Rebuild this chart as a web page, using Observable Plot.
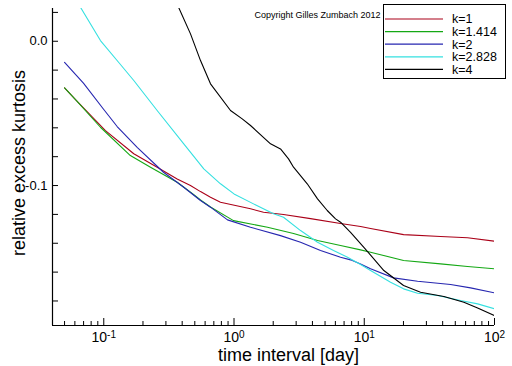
<!DOCTYPE html>
<html><head><meta charset="utf-8">
<script src="https://cdn.jsdelivr.net/npm/d3@7"></script>
<script src="https://cdn.jsdelivr.net/npm/@observablehq/plot@0.6"></script>
<style>
body{margin:0;background:#fff;}
#wrap{position:relative;width:512px;height:366px;font-family:"Liberation Sans",Arial,sans-serif;}
#legend{position:absolute;left:383px;top:4px;}
</style></head><body><div id="wrap"></div>
<script>
const seriesNames = ["k=1", "k=1.414", "k=2", "k=2.828", "k=4"];
const seriesColors = ["#aa0018", "#14a814", "#2626b0", "#35e0e0", "#000000"];

const k1X = [0.05, 0.0617, 0.103, 0.170, 0.257, 0.366, 0.463, 0.553, 0.66, 0.787, 1.339, 1.685, 2.399, 3.869, 6.577, 9.37, 11.18, 20.04, 38.55, 62.1, 100];
const k1Y = [-0.0323, -0.0411, -0.0619, -0.0780, -0.0873, -0.0954, -0.1000, -0.1042, -0.1081, -0.1116, -0.1161, -0.1185, -0.1201, -0.1229, -0.1263, -0.1284, -0.1298, -0.1340, -0.1353, -0.1362, -0.1386];

const k1414X = [0.05, 0.0617, 0.0943, 0.160, 0.2284, 0.366, 0.4887, 0.553, 0.66, 0.991, 1.808, 2.864, 4.378, 6.577, 9.37, 11.18, 20.04, 38.55, 62.1, 100];
const k1414Y = [-0.0323, -0.0411, -0.0596, -0.0792, -0.0873, -0.0977, -0.1062, -0.1100, -0.1149, -0.1243, -0.1289, -0.1333, -0.1381, -0.1416, -0.1446, -0.1462, -0.1520, -0.1543, -0.1561, -0.1577];

const k2X = [0.05, 0.0698, 0.1, 0.1267, 0.1805, 0.2873, 0.4114, 0.553, 0.66, 0.8913, 1.339, 2.275, 3.243, 4.617, 6.577, 7.85, 9.37, 11.18, 16.79, 25.67, 46.0, 65.5, 100];
const k2Y = [-0.0146, -0.0290, -0.0473, -0.0591, -0.0735, -0.0908, -0.1012, -0.1104, -0.1150, -0.1238, -0.1289, -0.1347, -0.1393, -0.1450, -0.1497, -0.1515, -0.1543, -0.1577, -0.1640, -0.1663, -0.1686, -0.1709, -0.1744];

const k2828X = [0.0662, 0.0943, 0.1343, 0.170, 0.257, 0.4114, 0.5861, 0.7874, 1.0, 1.412, 2.011, 2.399, 3.243, 4.378, 5.81, 7.44, 9.37, 11.18, 15.92, 20.04, 25.67, 36.56, 54.9, 74.2, 100];
const k2828Y = [0.0236, 0.0005, -0.0161, -0.0272, -0.0480, -0.0711, -0.0884, -0.0988, -0.1058, -0.1127, -0.1196, -0.1220, -0.1312, -0.1393, -0.1450, -0.1497, -0.1547, -0.1589, -0.1670, -0.1716, -0.1746, -0.1762, -0.1797, -0.1820, -0.1854];

const k4X = [0.375, 0.4634, 0.5531, 0.660, 0.940, 1.156, 1.339, 1.907, 2.275, 2.622, 2.864, 3.649, 4.378, 5.198, 6.021, 6.577, 7.85, 9.93, 14.14, 20.04, 27.06, 40.88, 58.2, 74.2, 100];
const k4Y = [0.0236, 0.0051, -0.0134, -0.0295, -0.0480, -0.0538, -0.0584, -0.0711, -0.0746, -0.0815, -0.0873, -0.0988, -0.1092, -0.1173, -0.1231, -0.1254, -0.1324, -0.1428, -0.1589, -0.1693, -0.1739, -0.1769, -0.1809, -0.1848, -0.1901];

const xMajor = [0.1, 1, 10, 100];
const xMinor = [0.05, 0.06, 0.07, 0.08, 0.09, 0.2, 0.3, 0.4, 0.5, 0.6, 0.7, 0.8, 0.9, 2, 3, 4, 5, 6, 7, 8, 9, 20, 30, 40, 50, 60, 70, 80, 90];
const yMajor = [0, -0.1];
const yMinor = [0.02, -0.02, -0.04, -0.06, -0.08, -0.12, -0.14, -0.16, -0.18];
const xDomain = [0.0404, 100];
const yDomain = [-0.197, 0.0227];
const xTitle = "time interval [day]";
const yTitle = "relative excess kurtosis";
const copyright = "Copyright Gilles Zumbach 2012";

const seriesX = [k1X, k1414X, k2X, k2828X, k4X];
const seriesY = [k1Y, k1414Y, k2Y, k2828Y, k4Y];
const rows = [];
seriesNames.forEach((k, i) => seriesX[i].forEach((x, j) => rows.push({k, x, y: seriesY[i][j]})));

const font = '"Liberation Sans", Arial, sans-serif';
const plot = Plot.plot({
  width: 512, height: 366,
  marginTop: 8, marginRight: 18, marginBottom: 41, marginLeft: 52,
  style: {fontFamily: font, fontSize: "13px", color: "#000", background: "#fff"},
  x: {type: "log", domain: xDomain},
  y: {domain: yDomain},
  color: {domain: seriesNames, range: seriesColors},
  marks: [
    Plot.line(rows, {x: "x", y: "y", z: "k", stroke: "k", strokeWidth: 1.1, clip: true}),
    Plot.ruleX([xDomain[0]], {stroke: "#000", strokeWidth: 1.2}),
    Plot.ruleY([yDomain[0]], {stroke: "#000", strokeWidth: 1.2}),
    Plot.axisX(xMinor, {tickSize: -4, tickFormat: () => "", label: null}),
    Plot.axisX(xMajor, {tickSize: -7, tickPadding: 14, tickFormat: d => "10^" + Math.round(Math.log10(d)), label: null, fontSize: 14}),
    Plot.axisY(yMinor, {tickSize: -6, tickFormat: () => "", label: null}),
    Plot.axisY(yMajor, {tickSize: -6, tickPadding: 11, tickFormat: d => d.toFixed(1), label: null, fontSize: 13}),
    Plot.text([xTitle], {text: d => d, frameAnchor: "bottom", dy: 23, dx: 15, lineAnchor: "top", fontSize: 18}),
    Plot.text([yTitle], {text: d => d, frameAnchor: "left", textAnchor: "middle", rotate: -90, dx: -33, dy: -4, lineAnchor: "middle", fontSize: 18}),
    Plot.text([copyright], {text: d => d, frameAnchor: "top-right", textAnchor: "end", dx: -114, dy: 7, lineAnchor: "middle", fontSize: 9})
  ]
});

d3.select(plot).selectAll('g[aria-label="x-axis tick label"] text').each(function () {
  const s = this.textContent;
  if (!s.includes("^")) return;
  const [base, exp] = s.split("^");
  const t = d3.select(this);
  t.text(null);
  t.append("tspan").text(base);
  t.append("tspan").attr("dy", "-0.45em").attr("font-size", "10px").text(exp);
});

const wrap = document.getElementById("wrap");
wrap.appendChild(plot);

// legend overlay
const lw = 123, lh = 75, rowH = 12.6;
const leg = d3.create("svg").attr("id", "legend").attr("width", lw).attr("height", lh)
  .style("font-family", font);
leg.append("rect").attr("x", 0.5).attr("y", 0.5).attr("width", lw - 1).attr("height", lh - 1)
  .attr("fill", "#fff").attr("stroke", "#000");
seriesNames.forEach((name, i) => {
  const cy = 15 + i * rowH;
  leg.append("line").attr("x1", 2).attr("x2", 60).attr("y1", cy).attr("y2", cy)
    .attr("stroke", seriesColors[i]).attr("stroke-width", 1.2);
  leg.append("text").attr("x", 69).attr("y", cy).attr("dy", "0.35em")
    .attr("font-size", 12.5).attr("fill", "#000").text(name);
});
wrap.appendChild(leg.node());
</script></body></html>
